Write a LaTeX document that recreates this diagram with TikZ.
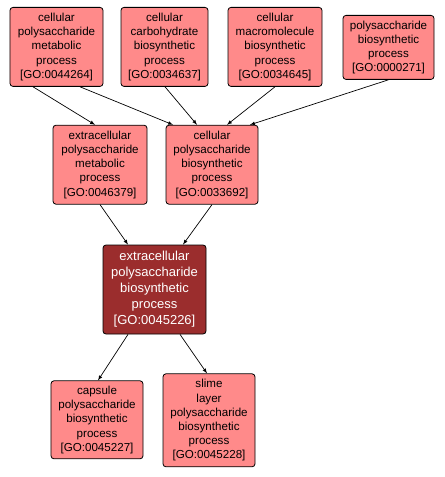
\documentclass[tikz,border=0pt]{standalone}
\usepackage{fontspec}
\setmainfont{Liberation Sans}
\usetikzlibrary{arrows,positioning}

\definecolor{termfill}{RGB}{255,138,138}
\definecolor{focusfill}{RGB}{155,45,45}

\begin{document}
\begin{tikzpicture}[x=1bp, y=1bp,
      term/.style={draw=black, rounded corners=3bp, fill=termfill, align=center,
        inner sep=0pt, line width=0.8bp, font=\fontsize{11.6bp}{14.2bp}\selectfont},
      focus/.style={term, fill=focusfill, text=white, font=\fontsize{13bp}{16bp}\selectfont},
      arrow/.style={-latex, line width=0.7bp, black}
    ]
      \useasboundingbox (0,0) rectangle (445,-477);

      % Focus term
      \node[focus, minimum width=103bp, minimum height=89bp] (focus) at (154.5,-289.5)
        {extracellular\\polysaccharide\\biosynthetic\\process\\{[GO:0045226]}};

      % Parents
      \node[term, minimum width=94bp, minimum height=79bp, above=40bp of focus, xshift=-54.5bp] (extmeta)
        {extracellular\\polysaccharide\\metabolic\\process\\{[GO:0046379]}};
      \node[term, minimum width=92bp, minimum height=79bp, above=40bp of focus, xshift=57.5bp] (cellbio)
        {cellular\\polysaccharide\\biosynthetic\\process\\{[GO:0033692]}};

      % Top row
      \node[term, minimum width=93bp, minimum height=79bp, above=38bp of extmeta, xshift=-43.5bp] (cellmeta)
        {cellular\\polysaccharide\\metabolic\\process\\{[GO:0044264]}};
      \node[term, minimum width=87bp, minimum height=79bp, above=38bp of cellbio, xshift=-47.5bp] (carbbio)
        {cellular\\carbohydrate\\biosynthetic\\process\\{[GO:0034637]}};
      \node[term, minimum width=94bp, minimum height=79bp, above=38bp of cellbio, xshift=63bp] (macrobio)
        {cellular\\macromolecule\\biosynthetic\\process\\{[GO:0034645]}};
      \node[term, minimum width=91bp, minimum height=64bp, above=45bp of cellbio, xshift=176.5bp] (polybio)
        {polysaccharide\\biosynthetic\\process\\{[GO:0000271]}};

      % Children
      \node[term, minimum width=92bp, minimum height=78bp, below=46bp of focus, xshift=-57.5bp] (capsule)
        {capsule\\polysaccharide\\biosynthetic\\process\\{[GO:0045227]}};
      \node[term, minimum width=92bp, minimum height=93bp, below=39bp of focus, xshift=54.5bp] (slime)
        {slime\\layer\\polysaccharide\\biosynthetic\\process\\{[GO:0045228]}};

      % Arrows
      \draw[arrow] ([xshift=-23.5bp]cellmeta.south) -- ([xshift=-5bp]extmeta.north);
      \draw[arrow] ([xshift=23.5bp]cellmeta.south) -- ([xshift=-39bp]cellbio.north);
      \draw[arrow] ([xshift=0.5bp]carbbio.south) -- ([xshift=-15bp]cellbio.north);
      \draw[arrow] (macrobio.south) -- ([xshift=15bp]cellbio.north);
      \draw[arrow] (polybio.south) -- ([xshift=38bp]cellbio.north);
      \draw[arrow] (extmeta.south) -- ([xshift=-26.5bp]focus.north);
      \draw[arrow] (cellbio.south) -- ([xshift=28.5bp]focus.north);
      \draw[arrow] ([xshift=-26.5bp]focus.south) -- ([xshift=1bp]capsule.north);
      \draw[arrow] ([xshift=25.5bp]focus.south) -- ([xshift=-2bp]slime.north);
    \end{tikzpicture}
\end{document}
